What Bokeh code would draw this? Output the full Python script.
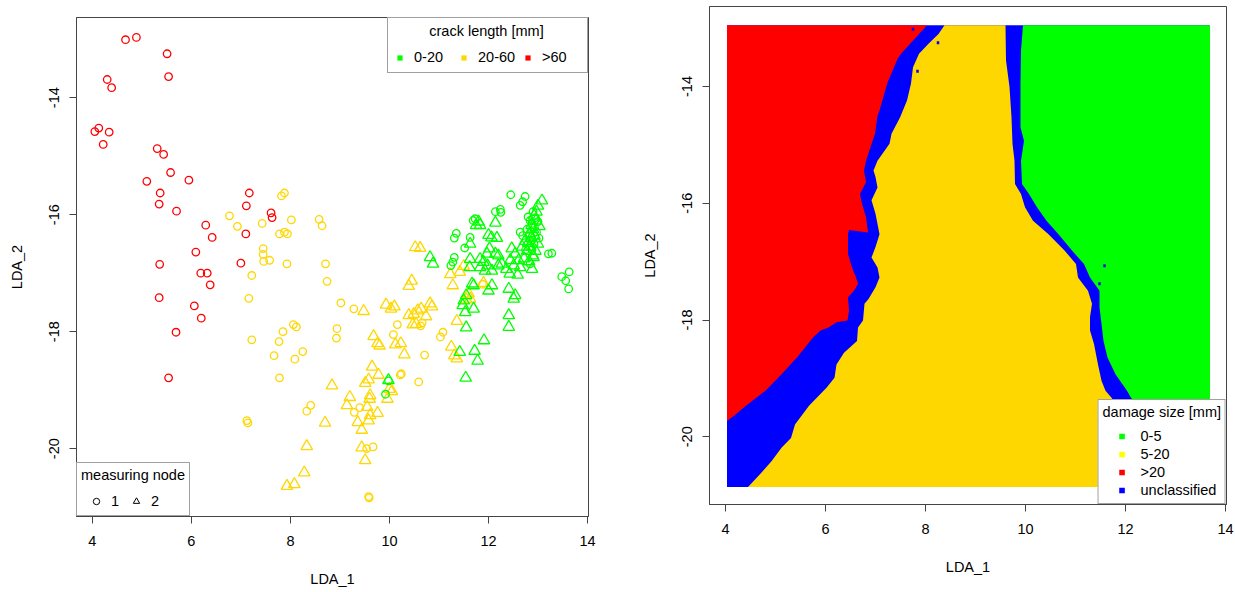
import math
from bokeh.plotting import figure
from bokeh.models import Range1d, FixedTicker, Legend, LegendItem
from bokeh.layouts import row
from bokeh.embed import file_html
from bokeh.resources import INLINE

FONT = "Liberation Sans"
FS = "14.5px"
FRAME = "#444444"

# ---------------- shared axes ----------------
x_range_lim = (3.68, 14.02)
y_range_lim = (-21.16, -12.63)
x_ticks = [4, 6, 8, 10, 12, 14]
y_ticks = [-20, -18, -16, -14]

# ---------------- left panel: scatter ----------------
crack_title = "crack length [mm]"
crack_labels = ["0-20", "20-60", ">60"]
crack_colors = ["#00FF00", "#FFD700", "#FF0000"]
node_title = "measuring node"
node_labels = ["1", "2"]

red_c_x = [4.67, 4.89, 5.51, 5.54, 4.30, 4.39, 4.05, 4.13, 4.34, 4.22, 5.31, 5.44, 5.58, 5.10, 5.95, 5.37,
           5.35, 5.70, 7.17, 7.11, 7.61, 7.63, 6.29, 6.42, 7.10, 6.09, 7.00, 5.36, 6.19, 6.32, 6.38, 5.35,
           6.06, 6.20, 5.69, 5.54]
red_c_y = [-13.01, -12.97, -13.25, -13.64, -13.69, -13.83, -14.58, -14.52, -14.59, -14.80, -14.87, -14.97,
           -15.28, -15.43, -15.41, -15.63, -15.82, -15.94, -15.63, -15.85, -15.97, -16.05, -16.18, -16.39,
           -16.33, -16.64, -16.83, -16.85, -17.00, -17.00, -17.20, -17.42, -17.56, -17.77, -18.01, -18.79]

yel_c_x = [6.77, 6.93, 7.43, 7.82, 7.88, 8.02, 7.78, 7.88, 7.94, 7.45, 7.45, 7.46, 7.58, 7.93, 7.22, 7.16,
           8.06, 8.12, 7.85, 7.22, 7.77, 8.25, 7.67, 8.09, 7.78, 7.12, 7.14, 8.58, 8.64, 8.71, 8.74, 9.02,
           9.28, 8.94, 8.93, 10.16, 10.08, 10.63, 10.66, 11.08, 11.03, 10.71, 10.22, 10.24, 10.59, 8.41,
           8.33, 9.40, 9.29, 9.54, 9.67, 9.58, 9.59, 11.88]
yel_c_y = [-16.02, -16.20, -16.15, -15.68, -15.63, -16.09, -16.33, -16.30, -16.33, -16.58, -16.68, -16.80,
           -16.78, -16.84, -17.04, -17.43, -17.88, -17.92, -18.00, -18.14, -18.17, -18.34, -18.41, -18.47,
           -18.79, -19.52, -19.56, -16.08, -16.19, -16.84, -17.14, -17.51, -17.61, -17.95, -18.11, -17.88,
           -18.05, -17.90, -17.85, -18.01, -18.09, -18.40, -18.74, -18.72, -18.86, -19.26, -19.36, -19.30,
           -19.38, -20.00, -19.97, -20.82, -20.84, -17.19]

yel_t_x = [10.52, 10.62, 10.45, 10.39, 11.23, 11.28, 11.42, 11.50, 11.90, 9.48, 9.93, 10.03, 10.10, 10.39,
           10.49, 10.57, 10.64, 10.74, 10.82, 10.86, 10.54, 10.47, 11.36, 9.68, 9.76, 9.80, 10.12, 10.23,
           10.30, 11.25, 11.31, 11.36, 9.65, 9.78, 9.58, 9.51, 8.84, 9.61, 9.20, 9.14, 9.60, 10.05, 9.96,
           10.00, 9.55, 9.76, 9.61, 9.58, 9.36, 9.44, 8.70, 8.33, 9.44, 9.51, 8.28, 7.93, 8.08, 11.60,
           11.63, 11.55]
yel_t_y = [-16.56, -16.57, -17.13, -17.22, -17.02, -17.21, -16.98, -16.88, -17.17, -17.65, -17.54, -17.61,
           -17.57, -17.72, -17.70, -17.64, -17.61, -17.74, -17.52, -17.57, -17.87, -17.88, -17.82, -18.08,
           -18.20, -18.24, -18.22, -18.20, -18.39, -18.26, -18.41, -18.46, -18.60, -18.74, -18.82, -18.88,
           -18.92, -19.09, -19.12, -19.26, -19.15, -19.02, -19.15, -18.98, -19.29, -19.39, -19.43, -19.52,
           -19.55, -19.68, -19.56, -19.96, -19.98, -20.20, -20.41, -20.64, -20.61, -17.35, -17.44, -17.45]

grn_c_x = [12.45, 12.64, 12.69, 12.74, 12.14, 12.24, 12.25, 11.73, 11.69, 11.35, 11.31, 11.63, 11.52, 11.31,
           11.28, 11.24, 12.80, 12.84, 12.64, 12.69, 13.21, 13.28, 13.48, 13.63, 13.56, 13.62, 12.84, 9.98,
           9.92, 12.90, 12.95, 12.88, 12.93, 12.97, 12.85, 12.92, 13.00, 12.78, 12.75, 12.88, 13.02]
grn_c_y = [-15.66, -15.84, -15.78, -15.69, -15.95, -15.91, -15.96, -16.07, -16.10, -16.32, -16.40, -16.39,
           -16.57, -16.73, -16.81, -16.87, -16.04, -16.10, -16.30, -16.36, -16.67, -16.66, -17.06, -16.98,
           -17.13, -17.27, -16.84, -18.84, -19.07, -15.95, -16.05, -16.15, -16.22, -16.30, -16.45, -16.50,
           -16.12, -16.25, -16.60, -16.60, -16.40]

grn_t_x = [13.08, 11.80, 11.75, 11.83, 12.14, 12.00, 12.06, 12.17, 11.63, 12.02, 11.97, 12.14, 12.20, 11.83,
           11.90, 11.98, 11.83, 11.93, 12.07, 12.20, 12.27, 11.63, 11.62, 10.82, 10.88, 12.47, 12.54, 12.44,
           12.51, 12.61, 12.64, 12.43, 12.59, 12.36, 11.67, 11.70, 12.07, 12.00, 12.41, 12.54, 12.51, 11.50,
           11.55, 11.48, 11.53, 11.70, 11.55, 12.41, 12.41, 11.91, 11.42, 11.72, 11.78, 11.54, 9.98, 13.00,
           12.97, 12.92, 12.96, 12.87, 12.90, 12.83, 12.86, 12.80, 12.83, 12.78, 12.90, 12.95, 13.00, 12.93,
           13.03, 12.72, 12.82, 12.68, 12.74, 12.88, 12.91]
grn_t_y = [-15.76, -16.12, -16.18, -16.18, -16.14, -16.35, -16.39, -16.40, -16.50, -16.58, -16.67, -16.67,
           -16.70, -16.76, -16.81, -16.87, -16.90, -16.96, -16.96, -16.87, -16.84, -16.76, -16.90, -16.73,
           -16.84, -16.58, -16.67, -16.78, -16.87, -16.78, -16.90, -17.01, -17.03, -16.93, -17.18, -17.21,
           -17.21, -17.30, -17.27, -17.38, -17.44, -17.47, -17.38, -17.55, -17.67, -17.61, -17.93, -17.72,
           -17.92, -18.15, -18.35, -18.33, -18.50, -18.79, -18.83, -15.85, -15.95, -16.02, -16.10, -16.18,
           -16.25, -16.32, -16.40, -16.48, -16.55, -16.62, -16.70, -16.62, -16.50, -16.36, -16.20, -16.75,
           -16.80, -16.55, -16.45, -16.93, -16.73]

# ---------------- right panel: classification map ----------------
damage_title = "damage size [mm]"
damage_labels = ["0-5", "5-20", ">20", "unclassified"]
damage_legend_colors = ["#00FF00", "#FFFF00", "#FF0000", "#0000FF"]
region_green, region_gold, region_red, region_blue = "#00FF00", "#FFD700", "#FF0000", "#0000FF"

grid_x = [4.03, 13.69]
grid_y = [-20.86, -12.95]

# boundary red | unclassified
a_x = [8.03, 7.87, 7.51, 7.44, 7.24, 7.08, 7.04, 6.99, 6.81, 6.77, 6.81, 6.69, 6.73, 6.81, 6.85, 6.47, 6.45,
       6.45, 6.53, 6.61, 6.65, 6.57, 6.45, 6.47, 6.44, 6.22, 6.06, 5.90, 5.75, 5.43, 5.12, 4.80, 4.41, 4.17,
       4.03]
a_y = [-12.95, -13.10, -13.44, -13.53, -13.93, -14.41, -14.50, -14.81, -15.27, -15.44, -15.64, -15.84, -16.01,
       -16.24, -16.50, -16.46, -16.53, -16.87, -17.10, -17.27, -17.38, -17.50, -17.61, -17.84, -18.01, -18.04,
       -18.13, -18.18, -18.30, -18.64, -18.93, -19.21, -19.47, -19.64, -19.73]
# boundary unclassified | 5-20 (left)
b_x = [8.38, 8.26, 8.06, 7.87, 7.75, 7.71, 7.63, 7.49, 7.32, 7.28, 7.04, 6.96, 7.00, 7.04, 6.92, 7.00, 7.08,
       7.00, 6.92, 7.04, 7.08, 7.00, 6.86, 6.78, 6.75, 6.65, 6.63, 6.37, 6.22, 6.18, 6.02, 5.67, 5.39, 5.31,
       5.12, 4.92, 4.68, 4.45]
b_y = [-12.95, -13.10, -13.27, -13.44, -13.67, -13.95, -14.24, -14.53, -14.81, -14.98, -15.27, -15.44, -15.55,
       -15.73, -15.95, -16.18, -16.53, -16.75, -16.93, -17.10, -17.27, -17.44, -17.64, -17.72, -18.01, -18.13,
       -18.36, -18.56, -18.76, -18.99, -19.16, -19.47, -19.79, -20.02, -20.19, -20.42, -20.65, -20.86]
# boundary 5-20 | unclassified (right)
c_x = [9.60, 9.61, 9.68, 9.72, 9.74, 9.78, 9.79, 9.91, 9.99, 10.15, 10.46, 10.78, 11.01, 11.05, 11.25, 11.33,
       11.29, 11.29, 11.37, 11.45, 11.52, 11.60, 11.72, 11.95, 12.25, 12.60]
c_y = [-12.95, -13.55, -14.01, -14.53, -14.98, -15.27, -15.67, -15.84, -16.07, -16.30, -16.53, -16.81, -17.04,
       -17.27, -17.50, -17.72, -17.95, -18.18, -18.41, -18.76, -19.04, -19.21, -19.33, -19.60, -20.00, -20.86]
# boundary unclassified | 0-5
d_x = [9.95, 9.91, 9.90, 9.90, 9.97, 9.91, 9.93, 10.07, 10.23, 10.42, 10.66, 10.93, 11.17, 11.29, 11.48, 11.48,
       11.52, 11.56, 11.64, 11.80, 12.03, 12.11, 12.40, 12.80, 13.20]
d_y = [-12.95, -13.38, -13.95, -14.70, -14.93, -15.27, -15.67, -15.84, -16.07, -16.30, -16.53, -16.81, -17.04,
       -17.27, -17.50, -17.78, -18.07, -18.36, -18.64, -18.93, -19.21, -19.33, -19.60, -20.00, -20.86]
# isolated unclassified cells
speck_x = [7.75, 8.25, 7.84, 11.58, 11.48]
speck_y = [-13.02, -13.25, -13.74, -17.07, -17.38]

NAN = float("nan")


def make_fig(fw, fh, bl, br, bt, bb):
    p = figure(frame_width=fw, frame_height=fh, min_border_left=bl, min_border_right=br,
               min_border_top=bt, min_border_bottom=bb,
               x_range=Range1d(*x_range_lim), y_range=Range1d(*y_range_lim),
               x_axis_label="LDA_1", y_axis_label="LDA_2",
               output_backend="svg", toolbar_location=None)
    p.outline_line_color = FRAME
    p.outline_line_width = 1
    p.xgrid.visible = False
    p.ygrid.visible = False
    p.background_fill_color = "white"
    p.border_fill_color = "white"
    for ax in (p.xaxis[0], p.yaxis[0]):
        ax.axis_line_color = FRAME
        ax.major_tick_line_color = FRAME
        ax.major_tick_out = 7
        ax.major_tick_in = 0
        ax.minor_tick_line_color = None
        ax.major_label_text_font = FONT
        ax.major_label_text_font_size = FS
        ax.major_label_text_color = "#000000"
        ax.axis_label_text_font = FONT
        ax.axis_label_text_font_size = FS
        ax.axis_label_text_font_style = "normal"
        ax.axis_label_text_color = "#000000"
    p.xaxis.ticker = FixedTicker(ticks=x_ticks)
    p.yaxis.ticker = FixedTicker(ticks=y_ticks)
    p.xaxis.major_label_overrides = {t: str(t) for t in x_ticks}
    p.yaxis.major_label_overrides = {t: str(t) for t in y_ticks}
    p.yaxis.major_label_orientation = "vertical"
    p.xaxis.major_label_standoff = 12
    p.xaxis.axis_label_standoff = 22
    p.yaxis.major_label_standoff = 10
    p.yaxis.axis_label_standoff = 22
    return p


def style_legend(leg):
    leg.label_text_font = FONT
    leg.label_text_font_size = FS
    leg.label_text_color = "#000000"
    leg.title_text_font = FONT
    leg.title_text_font_size = FS
    leg.title_text_font_style = "normal"
    leg.title_text_color = "#000000"
    leg.border_line_color = FRAME
    leg.border_line_width = 1
    leg.background_fill_color = "white"
    leg.background_fill_alpha = 1.0
    leg.margin = 0


# ---------------- left figure ----------------
p1 = make_fig(512, 499, 76, 32, 17, 76)
LW = 1.3
CS, TS = 7.5, 11.5
p1.scatter(yel_c_x, yel_c_y, marker="circle", size=CS, fill_color=None, line_color=crack_colors[1], line_width=LW)
p1.scatter(yel_t_x, yel_t_y, marker="triangle", size=TS, fill_color=None, line_color=crack_colors[1], line_width=LW)
p1.scatter(grn_c_x, grn_c_y, marker="circle", size=CS, fill_color=None, line_color=crack_colors[0], line_width=LW)
p1.scatter(grn_t_x, grn_t_y, marker="triangle", size=TS, fill_color=None, line_color=crack_colors[0], line_width=LW)
p1.scatter(red_c_x, red_c_y, marker="circle", size=CS, fill_color=None, line_color=crack_colors[2], line_width=LW)

crack_items = []
for lab, col in zip(crack_labels, crack_colors):
    r = p1.scatter([NAN], [NAN], marker="square", fill_color=col, line_color=None)
    crack_items.append(LegendItem(label=lab, renderers=[r]))
# title centred over the row of keys (legend titles are drawn left-aligned)
leg1 = Legend(items=crack_items, title="\u00a0" * 9 + crack_title, orientation="horizontal",
              location="top_right", padding=5, spacing=3, glyph_width=13, glyph_height=13, label_width=40,
              label_height=20, label_standoff=8, title_standoff=8)
style_legend(leg1)
p1.add_layout(leg1)

node_items = []
for lab, mk in zip(node_labels, ["circle", "triangle"]):
    r = p1.scatter([NAN], [NAN], marker=mk, fill_color=None, line_color="#000000", line_width=1)
    node_items.append(LegendItem(label=lab, renderers=[r]))
leg2 = Legend(items=node_items, title=node_title, orientation="horizontal", location="bottom_left",
              padding=4, spacing=2, glyph_width=30, glyph_height=16, label_width=8, label_height=20,
              label_standoff=-3, title_standoff=8)
style_legend(leg2)
p1.add_layout(leg2)

# ---------------- right figure ----------------
p2 = make_fig(517, 498, 89, 9, 17, 77)
# the right-hand picture sits 11 px higher than the left one
p2.styles = {"transform": "translateY(-11px)"}
p2.quad(left=[grid_x[0]], right=[grid_x[1]], bottom=[grid_y[0]], top=[grid_y[1]],
        fill_color=region_blue, line_color=None)
red_px = [grid_x[0]] + a_x
red_py = [grid_y[1]] + a_y
p2.patch(red_px, red_py, fill_color=region_red, line_color=None)
gold_px = b_x + c_x[::-1]
gold_py = b_y + c_y[::-1]
p2.patch(gold_px, gold_py, fill_color=region_gold, line_color=None)
green_px = d_x + [grid_x[1], grid_x[1]]
green_py = d_y + [grid_y[0], grid_y[1]]
p2.patch(green_px, green_py, fill_color=region_green, line_color=None)
p2.rect(speck_x, speck_y, width=0.05, height=0.05, fill_color=region_blue, line_color=None)

dmg_items = []
for lab, col in zip(damage_labels, damage_legend_colors):
    r = p2.scatter([NAN], [NAN], marker="square", fill_color=col, line_color=None)
    dmg_items.append(LegendItem(label=lab, renderers=[r]))
leg3 = Legend(items=dmg_items, title=damage_title, orientation="vertical", location="bottom_right",
              padding=4, spacing=0, glyph_width=38, glyph_height=14, label_height=18,
              label_standoff=-8, title_standoff=7)
style_legend(leg3)
p2.add_layout(leg3)

layout = row(p1, p2)
open("out.html", "w").write(file_html(layout, INLINE))
